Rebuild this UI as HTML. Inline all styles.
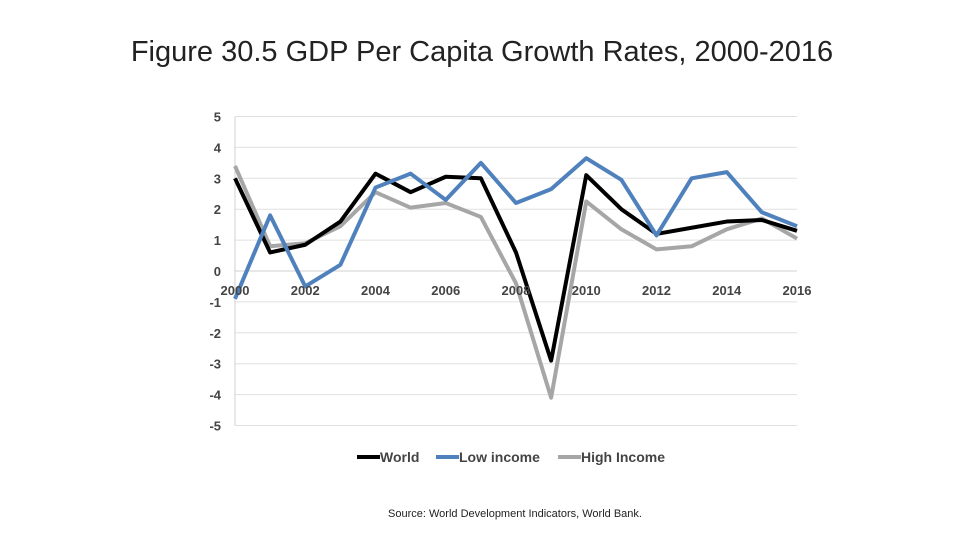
<!DOCTYPE html>
<html><head><meta charset="utf-8"><style>
body{margin:0;background:#fff;width:960px;height:540px;overflow:hidden;font-family:"Liberation Sans",sans-serif}
</style></head><body>
<svg width="960" height="540">
<text x="482" y="61" text-anchor="middle" font-size="29" fill="#222">Figure 30.5 GDP Per Capita Growth Rates, 2000-2016</text>
<g id="grid"></g><g id="series"></g><g id="labels"></g>
<g font-size="14" font-weight="bold" fill="#444">
<line x1="357" y1="457" x2="380" y2="457" stroke="#000" stroke-width="4"/>
<text x="380" y="462">World</text>
<line x1="436" y1="457" x2="459" y2="457" stroke="#4f81bd" stroke-width="4"/>
<text x="459" y="462">Low income</text>
<line x1="558" y1="457" x2="581" y2="457" stroke="#a6a6a6" stroke-width="4"/>
<text x="581" y="462">High Income</text>
</g>
<text x="515" y="517" text-anchor="middle" font-size="11" fill="#222">Source: World Development Indicators, World Bank.</text>
</svg>
<script>
const years=[2000,2001,2002,2003,2004,2005,2006,2007,2008,2009,2010,2011,2012,2013,2014,2015,2016];
const world=[3.0,0.6,0.85,1.6,3.15,2.55,3.05,3.0,0.6,-2.9,3.1,2.0,1.2,1.4,1.6,1.65,1.3];
const lowIncome=[-0.9,1.8,-0.5,0.2,2.7,3.15,2.3,3.5,2.2,2.65,3.65,2.95,1.15,3.0,3.2,1.9,1.45];
const highIncome=[3.4,0.8,0.9,1.45,2.55,2.05,2.2,1.75,-0.4,-4.1,2.25,1.35,0.7,0.8,1.35,1.7,1.05];
const yTicks=[5,4,3,2,1,0,-1,-2,-3,-4,-5];
const xTickLabels=[2000,2002,2004,2006,2008,2010,2012,2014,2016];
const NS="http://www.w3.org/2000/svg";
const X=v=>235+(v-2000)*(797-235)/16;
const Y=v=>271-v*30.9;
function mk(t,a,p){const e=document.createElementNS(NS,t);for(const k in a)e.setAttribute(k,a[k]);p.appendChild(e);return e;}
const g=document.getElementById('grid'),L=document.getElementById('labels'),S=document.getElementById('series');
yTicks.forEach(v=>{
 const l=mk('line',{x1:235,x2:797,y1:Y(v),y2:Y(v),stroke:v===0?'#d0d0d0':'#e0e0e0','stroke-width':1},g);
 
 
 const t=mk('text',{x:221,y:Y(v)+5,'text-anchor':'end','font-size':13,'font-weight':'bold',fill:'#444'},L);
 t.textContent=v;
 
 
});
const ax=mk('line',{x1:235,x2:235,y1:Y(5),y2:Y(-5),stroke:'#d0d0d0'},g);


xTickLabels.forEach(v=>{
 const t=mk('text',{x:X(v),y:295,'text-anchor':'middle','font-size':13,'font-weight':'bold',fill:'#444'},L);
 t.textContent=v;
 
 
});
[[highIncome,'#a6a6a6','series-high-income'],[world,'#000','series-world'],[lowIncome,'#4f81bd','series-low-income']].forEach(([d,c,n])=>{
 const p=mk('polyline',{points:d.map((v,i)=>X(years[i])+','+Y(v)).join(' '),fill:'none',stroke:c,'stroke-width':4,'stroke-linejoin':'round'},S);
 
 
});
</script>
</body></html>
